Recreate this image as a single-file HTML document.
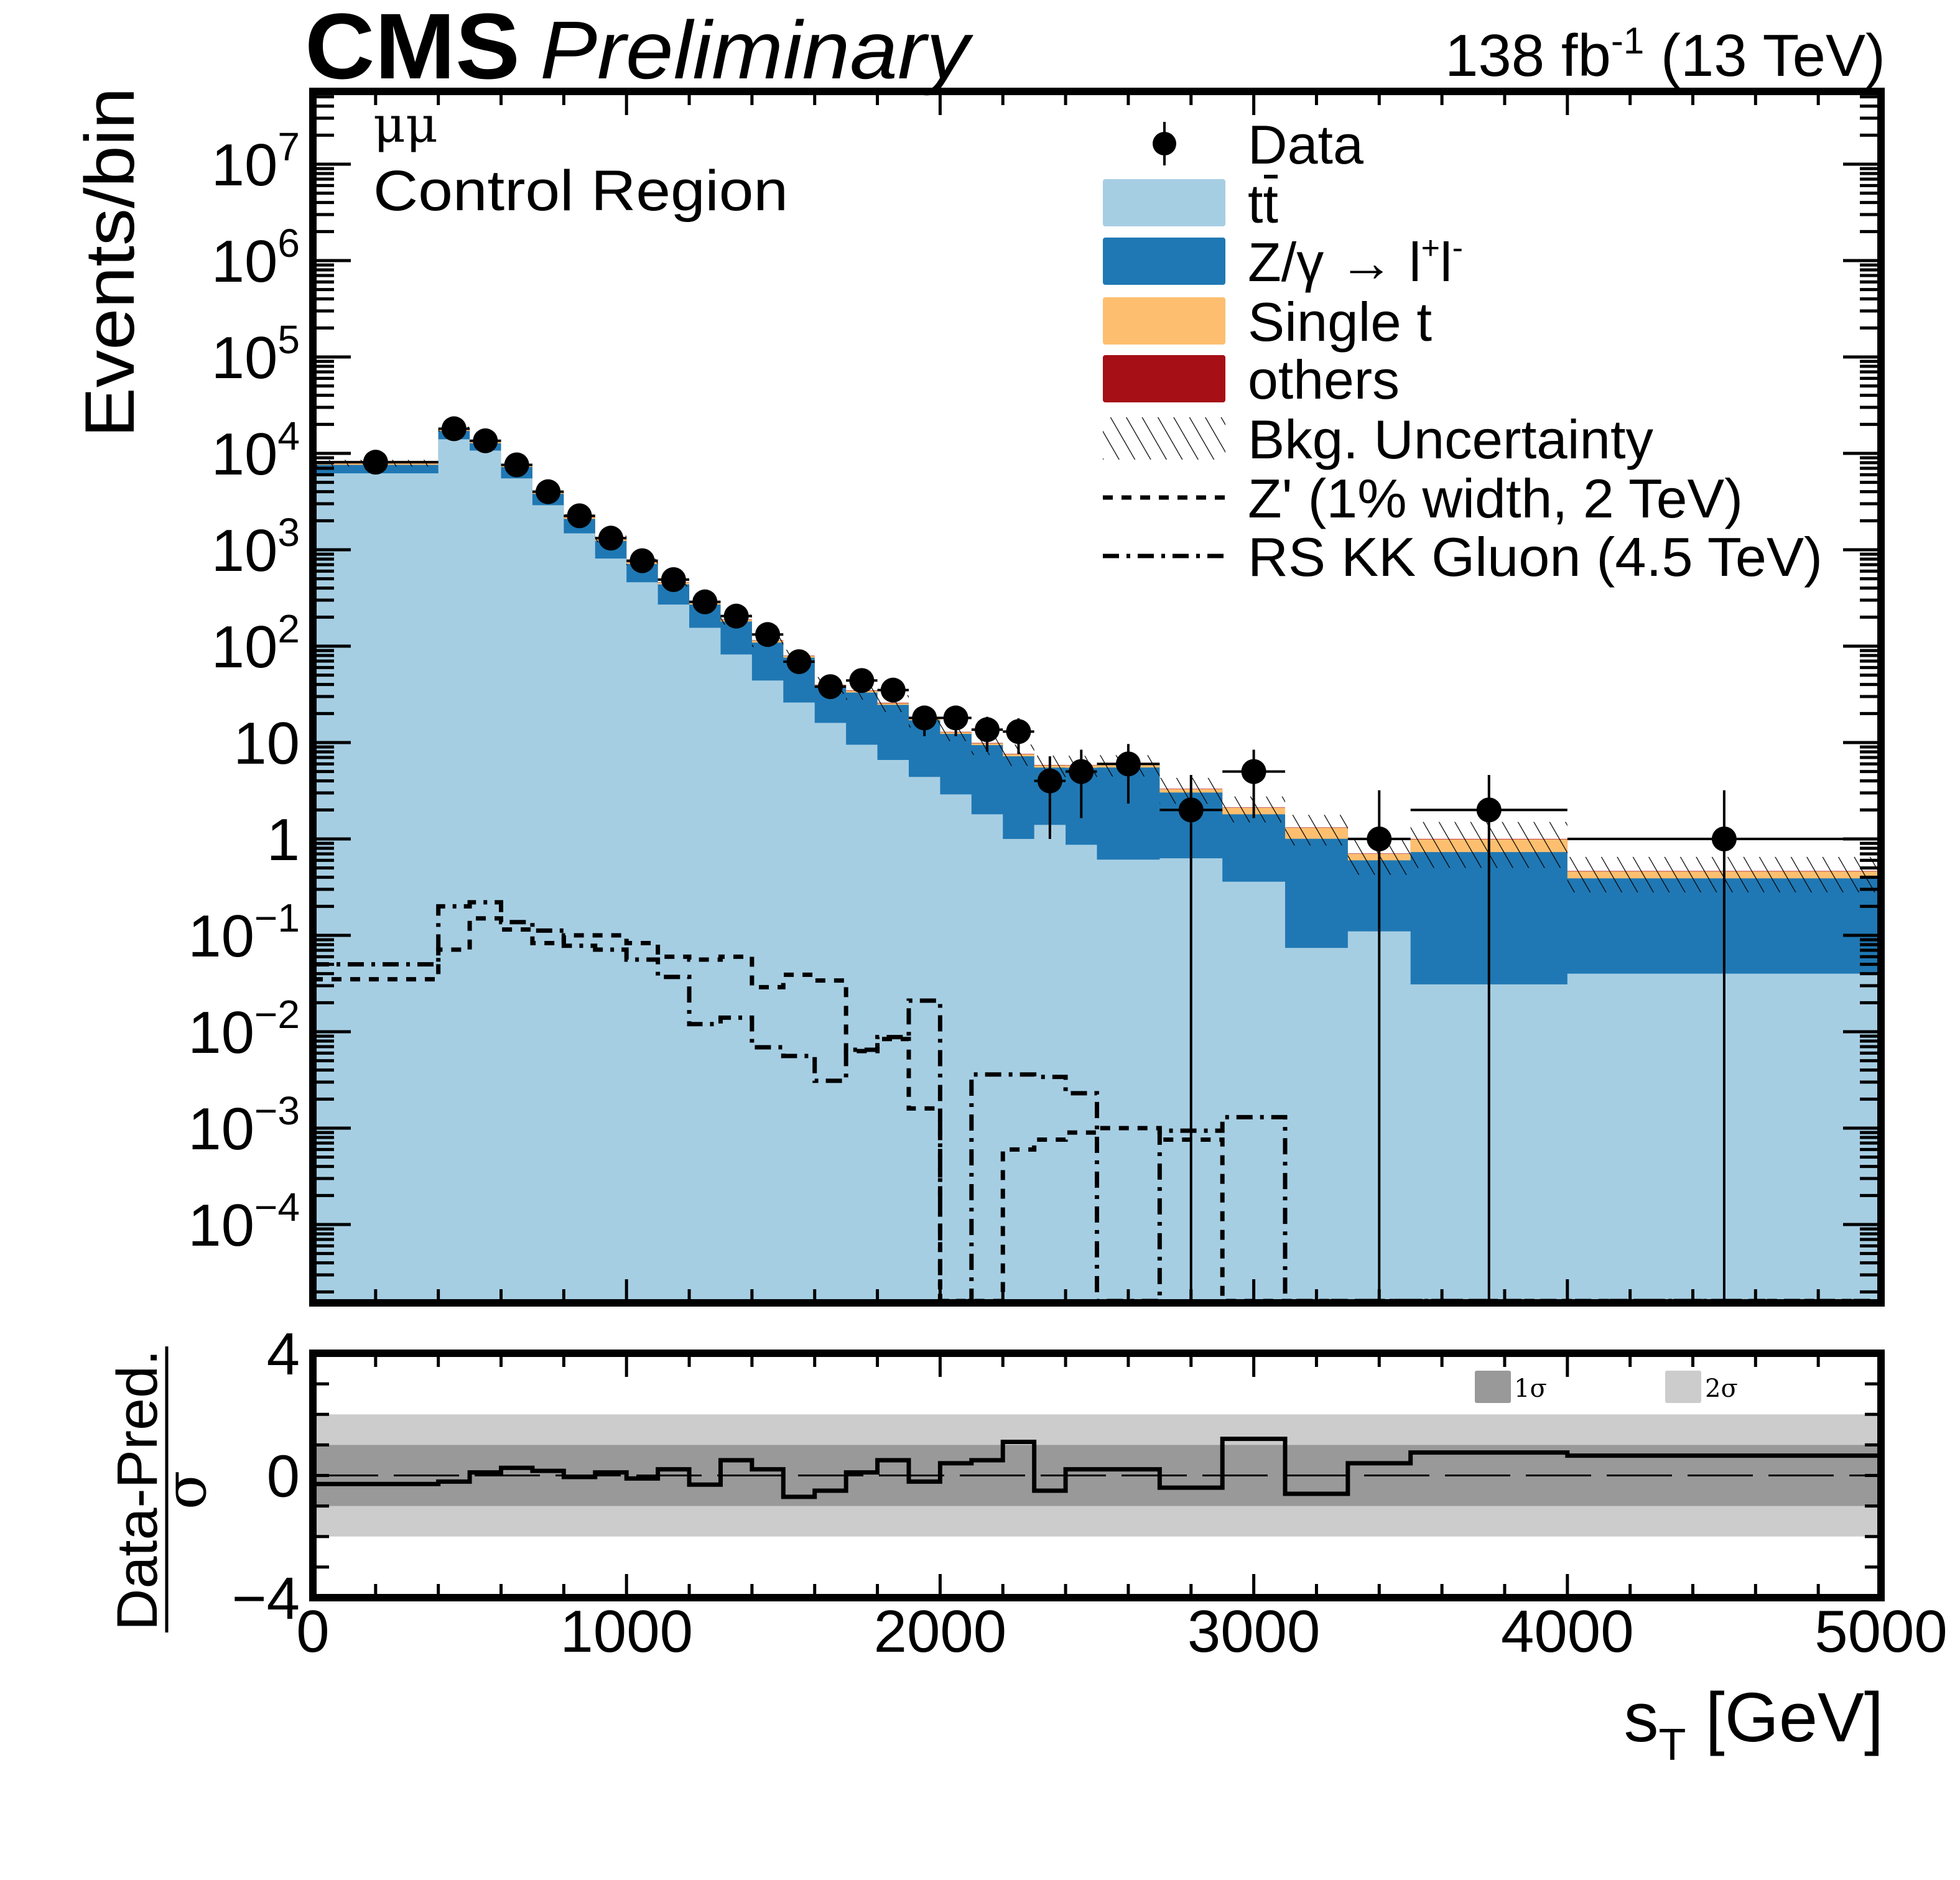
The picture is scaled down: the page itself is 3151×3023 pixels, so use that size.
<!DOCTYPE html>
<html><head><meta charset="utf-8"><style>
html,body{margin:0;padding:0;background:#fff;}
svg{display:block;font-family:"Liberation Sans",sans-serif;}
</style></head><body>
<svg id="chart" xmlns="http://www.w3.org/2000/svg" width="3151" height="3023" viewBox="0 0 3151 3023">
<defs>
<clipPath id="mainclip"><rect x="503" y="147" width="2521" height="1948"/></clipPath>
<clipPath id="ratioclip"><rect x="503" y="2176" width="2521" height="393"/></clipPath>
<pattern id="hatch" patternUnits="userSpaceOnUse" width="22" height="22" patternTransform="rotate(-30)">
<line x1="0" y1="0" x2="0" y2="22" stroke="#000" stroke-width="2.5"/>
</pattern>
</defs>
<g id="g"></g>
</svg>
<script>
const edges=[0,400,500,600,700,800,900,1000,1100,1200,1300,1400,1500,1600,1700,1800,1900,2000,2100,2200,2300,2400,2500,2700,2900,3100,3300,3500,4000,5000];
const ttbar=[6200,14000,10700,5500,2900,1480,810,460,270,155,82,44,26,16,9.5,6.6,4.4,2.9,1.8,1.0,1.4,0.87,0.61,0.63,0.36,0.074,0.11,0.031,0.040];
const zjets=[1400,3100,2030,1720,900,610,425,252,167,115,98,65,50,22,23.5,18,12.6,9.4,7.6,6.2,4.1,4.6,4.9,2.4,1.44,0.93,0.49,0.70,0.35];
const singlet=[250,600,450,280,150,80,50,30,18,12,8,5,3,1.5,1.4,1.0,0.7,0.5,0.4,0.35,0.3,0.3,0.35,0.25,0.3,0.3,0.1,0.26,0.07];
const others=[80,180,134,76,40,22,13,7.5,4.6,2.9,1.9,1.2,0.8,0.4,0.35,0.26,0.18,0.13,0.1,0.08,0.06,0.06,0.06,0.03,0.02,0.013,0.007,0.01,0.005];
const uncFrac=[0.08,0.06,0.06,0.06,0.06,0.07,0.08,0.08,0.1,0.12,0.12,0.15,0.15,0.2,0.2,0.2,0.2,0.2,0.25,0.25,0.25,0.25,0.25,0.3,0.3,0.35,0.4,0.5,0.4];
const dataCounts=[8100,18000,13500,7600,4000,2250,1320,770,490,288,205,132,69,38,44,35,18,18,13.6,13,4,5,6,2,5,0,1,2,1];
const zprime=[0.035,0.071,0.15,0.115,0.083,0.10,0.10,0.083,0.060,0.056,0.06,0.029,0.039,0.034,0.0063,0.0084,0.0016,0,0,0.0006,0.00076,0.0009,0.001,0.00076,0,0,0,0,0];
const rskk=[0.050,0.20,0.22,0.137,0.112,0.078,0.071,0.056,0.037,0.012,0.014,0.0069,0.0056,0.0031,0.0065,0.0088,0.021,0,0.0036,0.0036,0.0034,0.0023,0,0.00094,0.0013,0,0,0,0];
const pulls=[-0.28,-0.2,0.1,0.25,0.15,-0.05,0.1,-0.1,0.2,-0.3,0.5,0.2,-0.7,-0.5,0.1,0.5,-0.2,0.4,0.5,1.1,-0.5,0.2,0.2,-0.4,1.2,-0.6,0.4,0.75,0.65];
const xTickLabels=["0","1000","2000","3000","4000","5000"];
const yDecades=[-4,-3,-2,-1,0,1,2,3,4,5,6,7];
const ratioTickLabels=["4","0","\u22124"];

const NS="http://www.w3.org/2000/svg";
const root=document.getElementById('g');
const X0=503,X1=3024,YT=147,YB=2095,RT=2176,RB=2569;
function xs(v){return X0+v*(X1-X0)/5000;}
function ys(v){if(v<=0)return YB+20;return 264+(7-Math.log10(v))*155;}
function yr(p){return 2372.5-p*49.1;}
function el(tag,attrs,parent){const e=document.createElementNS(NS,tag);for(const k in attrs)e.setAttribute(k,attrs[k]);(parent||root).appendChild(e);return e;}
function txt(s,attrs,parent){const t=el('text',attrs,parent);t.textContent=s;return t;}

const main=el('g',{'clip-path':'url(#mainclip)'});


const n=ttbar.length;
const cum0=[],cum1=[],cum2=[],cum3=[];
for(let i=0;i<n;i++){cum0.push(ttbar[i]);cum1.push(ttbar[i]+zjets[i]);cum2.push(ttbar[i]+zjets[i]+singlet[i]);cum3.push(ttbar[i]+zjets[i]+singlet[i]+others[i]);}
function stepArea(top,color,name){
  let d='M'+xs(edges[0])+','+(YB+20);
  for(let i=0;i<n;i++){d+=' L'+xs(edges[i])+','+ys(top[i])+' L'+xs(edges[i+1])+','+ys(top[i]);}
  d+=' L'+xs(edges[n])+','+(YB+20)+' Z';
  const p=el('path',{d:d,fill:color},main);
  
  
}
stepArea(cum3,'#a50f15','others-stack');
stepArea(cum2,'#fdbf6f','single-t-stack');
stepArea(cum1,'#1f78b4','z-gamma-stack');
stepArea(cum0,'#a6cee3','ttbar-stack');
for(let i=0;i<n;i++){
  const t=cum3[i];const hi=ys(t*(1+uncFrac[i])),lo=ys(t*(1-uncFrac[i]));
  const r=el('rect',{x:xs(edges[i]),y:hi,width:xs(edges[i+1])-xs(edges[i]),height:lo-hi,fill:'url(#hatch)'},main);
  
  
}
function stepLine(vals,dash,name){
  let d='';
  for(let i=0;i<n;i++){const y=Math.min(ys(vals[i]),YB-3);d+=(i===0?'M':' L')+xs(edges[i])+','+y+' L'+xs(edges[i+1])+','+y;}
  const p=el('path',{d:d,fill:'none',stroke:'#000','stroke-width':7,'stroke-dasharray':dash},main);
  
  
}
stepLine(zprime,'16,14','zprime-signal-line');
stepLine(rskk,'26,12,6,12','rs-kk-gluon-signal-line');
for(let i=0;i<n;i++){
  const N=dataCounts[i];if(N<=0)continue;
  const xc=(edges[i]+edges[i+1])/2;const cx=xs(xc),cy=ys(N);
  const up=N+Math.sqrt(N)+1.2,dn=N-1.5*Math.sqrt(N);
  const g=el('g',{},main);
  
  
  el('line',{x1:xs(edges[i]),x2:xs(edges[i+1]),y1:cy,y2:cy,stroke:'#000','stroke-width':4},g);
  el('line',{x1:cx,x2:cx,y1:ys(up),y2:dn>0?ys(dn):YB+20,stroke:'#000','stroke-width':4},g);
  el('circle',{cx:cx,cy:cy,r:20,fill:'#000'},g);
}

const rg=el('g',{'clip-path':'url(#ratioclip)'});


const b2=el('rect',{x:X0,y:yr(2),width:X1-X0,height:yr(-2)-yr(2),fill:'#cccccc'},rg);


const b1=el('rect',{x:X0,y:yr(1),width:X1-X0,height:yr(-1)-yr(1),fill:'#999999'},rg);


const zl=el('line',{x1:X0,x2:X1,y1:yr(0),y2:yr(0),stroke:'#000','stroke-width':3,'stroke-dasharray':'105,25'},rg);


let pd='';
for(let i=0;i<n;i++){pd+=(i===0?'M':' L')+xs(edges[i])+','+yr(pulls[i])+' L'+xs(edges[i+1])+','+yr(pulls[i]);}
const pl=el('path',{d:pd,fill:'none',stroke:'#000','stroke-width':7},rg);


const l1=el('rect',{x:2371,y:2204,width:58,height:52,fill:'#999',rx:3});


const lt1=txt('1σ',{x:2434,y:2246,'font-size':40,'font-family':'"DejaVu Serif",serif'});


const l2=el('rect',{x:2677,y:2204,width:58,height:52,fill:'#ccc',rx:3});


const lt2=txt('2σ',{x:2741,y:2246,'font-size':40,'font-family':'"DejaVu Serif",serif'});



const f1=el('rect',{x:X0,y:YT,width:X1-X0,height:YB-YT,fill:'none',stroke:'#000','stroke-width':12});


const f2=el('rect',{x:X0,y:RT,width:X1-X0,height:RB-RT,fill:'none',stroke:'#000','stroke-width':12});



const tk=el('g',{stroke:'#000','stroke-width':5});


for(let v=0;v<=5000;v+=200){
  const x=xs(v);const L=(v%1000===0)?32:16;
  [[YT+6,1],[YB-6,-1],[RT+6,1],[RB-6,-1]].forEach(([y0,s])=>{el('line',{x1:x,x2:x,y1:y0,y2:y0+s*L},tk);});
}
for(let d=-5;d<=7;d++){
  for(let m=1;m<=9;m++){
    const v=m*Math.pow(10,d);const y=ys(v);if(y<YT+6||y>YB-6)continue;
    const L=(m===1)?55:28;
    el('line',{x1:X0+6,x2:X0+6+L,y1:y,y2:y},tk);
    el('line',{x1:X1-6,x2:X1-6-L,y1:y,y2:y},tk);
  }
}
for(let p=-3;p<=3;p++){
  const y=yr(p);const L=20;
  el('line',{x1:X0+6,x2:X0+6+L,y1:y,y2:y},tk);
  el('line',{x1:X1-6,x2:X1-6-L,y1:y,y2:y},tk);
}

xTickLabels.forEach((s,i)=>{
  const t=txt(s,{x:xs(i*1000),y:2656,'font-size':96,'text-anchor':'middle'});
  
  
});
yDecades.forEach(d=>{
  const y=ys(Math.pow(10,d))+34;
  let t;
  if(d===0){t=txt('1',{x:482,y:y,'font-size':96,'text-anchor':'end'});}
  else if(d===1){t=txt('10',{x:482,y:y,'font-size':96,'text-anchor':'end'});}
  else{
    t=el('text',{x:482,y:y,'font-size':96,'text-anchor':'end'});
    const a=document.createElementNS(NS,'tspan');a.textContent='10';t.appendChild(a);
    const b=document.createElementNS(NS,'tspan');b.setAttribute('dy','-40');b.setAttribute('font-size','64');
    b.textContent=(d<0?'\u2212':'')+Math.abs(d);t.appendChild(b);
  }
  
  
});
ratioTickLabels.forEach((s,i)=>{
  const yy=[yr(4),yr(0),yr(-4)][i]+34;
  const t=txt(s,{x:482,y:yy,'font-size':96,'text-anchor':'end'});
  
  
});

const leg=el('g',{});


const rowsY=[231,326,420,516,609,705,800,894];
const labels=['Data','tt','Z/\u03b3 \u2192 l+l-','Single t','others','Bkg. Uncertainty',"Z' (1% width, 2 TeV)",'RS KK Gluon (4.5 TeV)'];
const names=['legend-data','legend-ttbar','legend-z-gamma','legend-single-t','legend-others','legend-bkg-uncertainty','legend-zprime','legend-rs-kk-gluon'];
const widths=[186,50,360,296,244,652,796,924];
const fills=[null,'#a6cee3','#1f78b4','#fdbf6f','#a50f15'];
for(let i=0;i<8;i++){
  const y=rowsY[i];
  const gg=el('g',{},leg);
  
  
  if(i===0){el('circle',{cx:1872,cy:y,r:19,fill:'#000'},gg);el('line',{x1:1872,x2:1872,y1:y-35,y2:y+35,stroke:'#000','stroke-width':4},gg);}
  else if(i<=4){el('rect',{x:1773,y:y-38,width:197,height:76,fill:fills[i],rx:4},gg);}
  else if(i===5){el('rect',{x:1773,y:y-34,width:197,height:68,fill:'url(#hatch)'},gg);}
  else if(i===6){el('line',{x1:1773,x2:1970,y1:y,y2:y,stroke:'#000','stroke-width':7,'stroke-dasharray':'16,14'},gg);}
  else{el('line',{x1:1773,x2:1970,y1:y,y2:y,stroke:'#000','stroke-width':7,'stroke-dasharray':'26,12,6,12'},gg);}
  let t;
  if(i===1){t=el('text',{x:2006,y:y+32,'font-size':88},gg);t.textContent='tt';
    el('line',{x1:2032,x2:2054,y1:y-42,y2:y-42,stroke:'#000','stroke-width':6},gg);}
  else if(i===2){t=el('text',{x:2006,y:y+32,'font-size':88},gg);
    const a=document.createElementNS(NS,'tspan');a.textContent='Z/\u03b3 \u2192 l';t.appendChild(a);
    const b=document.createElementNS(NS,'tspan');b.setAttribute('dy','-36');b.setAttribute('font-size','52');b.textContent='+';t.appendChild(b);
    const c=document.createElementNS(NS,'tspan');c.setAttribute('dy','36');c.textContent='l';t.appendChild(c);
    const d2=document.createElementNS(NS,'tspan');d2.setAttribute('dy','-36');d2.setAttribute('font-size','52');d2.textContent='-';t.appendChild(d2);}
  else{t=el('text',{x:2006,y:y+32,'font-size':88,textLength:widths[i],lengthAdjust:'spacingAndGlyphs'},gg);t.textContent=labels[i];}
}

const cms=txt('CMS',{x:490,y:126,'font-size':150,'font-weight':'bold',textLength:346,lengthAdjust:'spacingAndGlyphs'});


const pre=txt('Preliminary',{x:868,y:126,'font-size':132,'font-style':'italic',textLength:690,lengthAdjust:'spacingAndGlyphs'});


const lumi=el('text',{x:3031,y:122,'font-size':96,'text-anchor':'end'});
lumi.innerHTML='138 fb<tspan dy="-36" font-size="60">-1</tspan><tspan dy="36"> (13 TeV)</tspan>';


const ch=txt('\u03bc\u03bc',{x:600,y:228,'font-size':80,'font-family':'"DejaVu Serif",serif'});


const cr=txt('Control Region',{x:600,y:338,'font-size':92,textLength:667,lengthAdjust:'spacingAndGlyphs'});


const yl=txt('Events/bin',{x:0,y:0,'font-size':112,'text-anchor':'middle',textLength:563,lengthAdjust:'spacingAndGlyphs',transform:'translate(215,422) rotate(-90)'});


const ry=el('g',{});


txt('Data-Pred.',{x:0,y:0,'font-size':92,'text-anchor':'middle',textLength:452,lengthAdjust:'spacingAndGlyphs',transform:'translate(252,2396) rotate(-90)'},ry);
el('line',{x1:268,x2:268,y1:2165,y2:2625,stroke:'#000','stroke-width':5},ry);
txt('\u03c3',{x:0,y:0,'font-size':92,'text-anchor':'middle','font-family':'"DejaVu Serif",serif',transform:'translate(330,2396) rotate(-90)'},ry);
const xl=el('text',{x:3028,y:2800,'font-size':112,'text-anchor':'end'});
xl.innerHTML='s<tspan dy="30" font-size="72">T</tspan><tspan dy="-30"> [GeV]</tspan>';


</script>
</body></html>
